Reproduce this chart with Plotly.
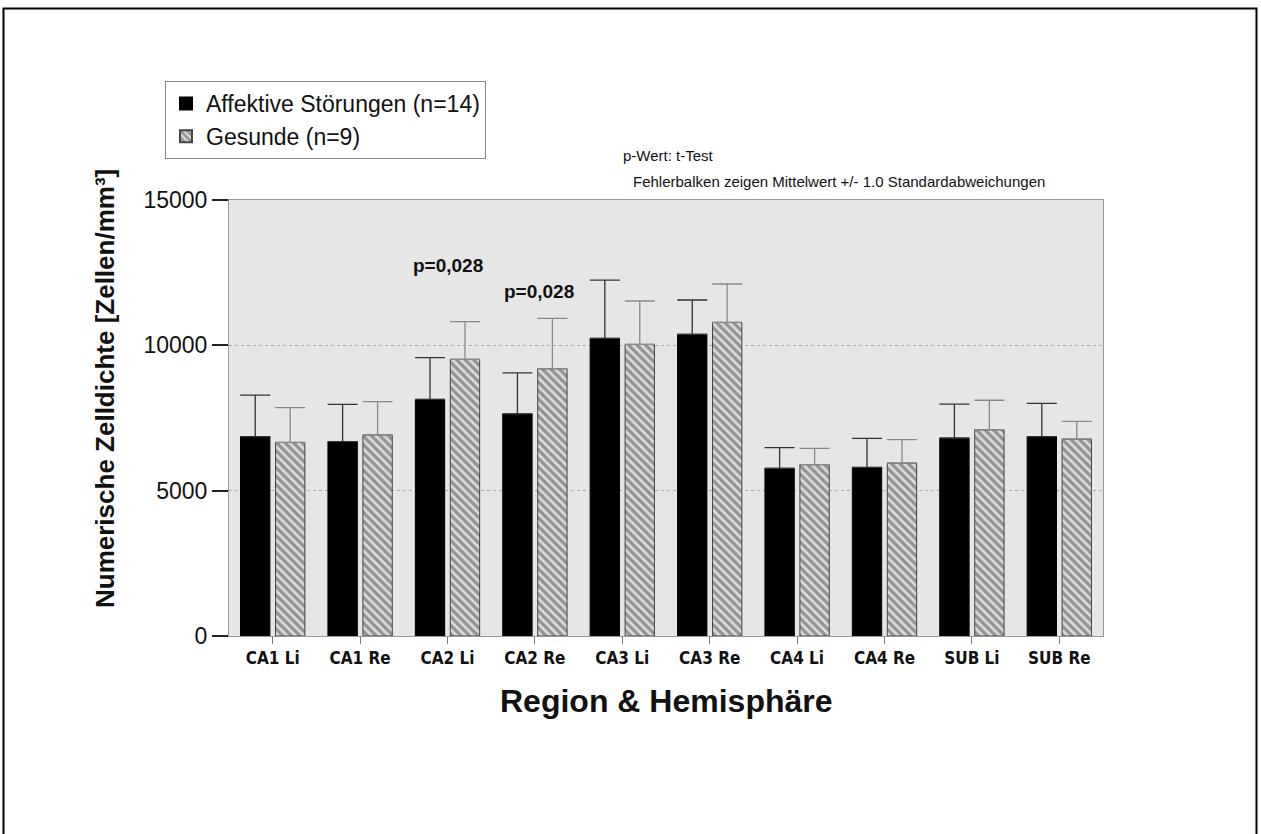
import plotly.graph_objects as go

# Regions (hippocampal subfield & hemisphere)
regions = ["CA1 Li", "CA1 Re", "CA2 Li", "CA2 Re", "CA3 Li",
           "CA3 Re", "CA4 Li", "CA4 Re", "SUB Li", "SUB Re"]

# Mean numerical cell density [cells/mm³]
mean_affektiv = [6860, 6685, 8140, 7640, 10240, 10380, 5770, 5800, 6810, 6860]
mean_gesund = [6660, 6915, 9520, 9195, 10035, 10790, 5895, 5950, 7095, 6775]

# Standard deviations (error bars show +1 SD)
sd_affektiv = [1430, 1285, 1435, 1410, 2005, 1180, 710, 1000, 1170, 1145]
sd_gesund = [1195, 1145, 1295, 1735, 1490, 1320, 560, 805, 1015, 610]

label_affektiv = "Affektive Störungen (n=14)"
label_gesund = "Gesunde (n=9)"

# p-value annotations: (region, height, text)
p_labels = [("CA2 Li", 12750, "p=0,028"), ("CA2 Re", 11850, "p=0,028")]

W, H = 1261, 834
ML, MR, MT, MB = 229, 158, 200, 198
pw, ph = W - ML - MR, H - MT - MB


def px(x):
    return (x - ML) / pw


def py(y):
    return (H - MB - y) / ph


fig = go.Figure()

fig.add_trace(go.Bar(
    x=regions, y=mean_affektiv, name=label_affektiv,
    marker=dict(color="#000000", line=dict(color="#000000", width=1)),
    error_y=dict(type="data", array=sd_affektiv, arrayminus=[0] * len(regions),
                 color="#333333", thickness=1.3, width=15),
))
fig.add_trace(go.Bar(
    x=regions, y=mean_gesund, name=label_gesund,
    marker=dict(color="#d0d0d0",
                line=dict(color="#444444", width=1),
                pattern=dict(shape="\\", fgcolor="#4a4a4a", bgcolor="#dcdcdc",
                             size=6, solidity=0.55)),
    error_y=dict(type="data", array=sd_gesund, arrayminus=[0] * len(regions),
                 color="#8a8a8a", thickness=1.3, width=15),
))

for i, (region, height, text) in enumerate(p_labels):
    fig.add_annotation(x=region, y=height, xref="x", yref="y", text=f"<b>{text}</b>",
                       showarrow=False, xshift=4 * i,
                       font=dict(family="Liberation Sans, Arial, sans-serif",
                                 size=19, color="#111111"))

# Note lines above the plot
fig.add_annotation(x=px(621), y=py(155), xref="paper", yref="paper", text="p-Wert: t-Test",
                   showarrow=False, xanchor="left", yanchor="middle",
                   font=dict(size=15, color="#111111"))
fig.add_annotation(x=px(631), y=py(181), xref="paper", yref="paper",
                   text="Fehlerbalken zeigen Mittelwert +/- 1.0 Standardabweichungen",
                   showarrow=False, xanchor="left", yanchor="middle",
                   font=dict(size=15, color="#111111"))

# Axis titles
fig.add_annotation(x=px(666), y=py(721), xref="paper", yref="paper",
                   text="<b>Region & Hemisphäre</b>", showarrow=False,
                   font=dict(size=32, color="#111111"))
fig.add_annotation(x=px(105), y=py(389), xref="paper", yref="paper",
                   text="<b>Numerische Zelldichte [Zellen/mm³]</b>", showarrow=False,
                   textangle=-90, xanchor="center", yanchor="middle",
                   font=dict(size=26, color="#111111"))

# Outer frame (open at the bottom)
fig.add_shape(type="path", xref="paper", yref="paper",
              path=f"M {px(3.5)} {py(900)} L {px(3.5)} {py(8.5)} L {px(1256.5)} {py(8.5)} L {px(1256.5)} {py(900)}",
              line=dict(color="#000000", width=2))

fig.update_layout(
    width=W, height=H,
    margin=dict(l=ML, r=MR, t=MT, b=MB, pad=0),
    paper_bgcolor="#ffffff",
    plot_bgcolor="#e6e6e6",
    barmode="group",
    bargap=0.2,
    bargroupgap=0.16,
    font=dict(family="Liberation Sans, Arial, sans-serif", color="#111111"),
    showlegend=True,
    legend=dict(
        x=px(165), y=py(81), xanchor="left", yanchor="top",
        xref="paper", yref="paper",
        bgcolor="#ffffff", bordercolor="#888888", borderwidth=1,
        font=dict(size=23, color="#111111"),
        itemwidth=30, tracegroupgap=0, traceorder="normal",
        itemsizing="constant",
    ),
    xaxis=dict(
        tickfont=dict(family="Liberation Sans Narrow, Arial Narrow, DejaVu Sans Condensed, sans-serif",
                      size=17, color="#111111"),
        tickprefix="<b>", ticksuffix="</b>",
        ticks="outside", ticklen=7, tickcolor="#777777",
        showline=True, linecolor="#999999", linewidth=1, mirror=True,
        showgrid=False,
    ),
    yaxis=dict(
        range=[0, 15000],
        tickvals=[0, 5000, 10000, 15000],
        ticktext=["0", "5000", "10000", "15000"],
        tickfont=dict(size=23, color="#111111"),
        ticks="outside", ticklen=16, tickcolor="#222222", tickwidth=2,
        showline=True, linecolor="#999999", linewidth=1, mirror=True,
        showgrid=True, gridcolor="#aaaaaa", griddash="dot", gridwidth=1,
        zeroline=False,
    ),
)

fig.write_html("out.html")
